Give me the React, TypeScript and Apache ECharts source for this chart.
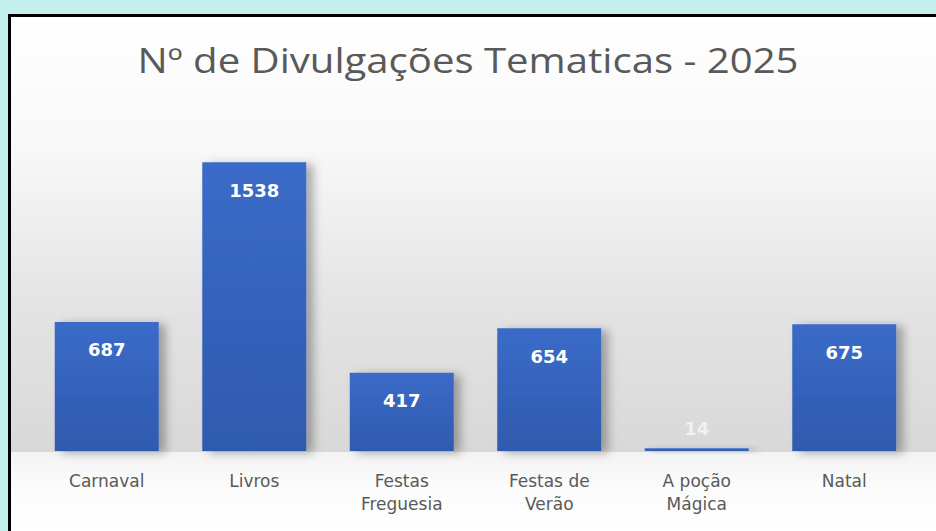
import React, { useEffect, useRef } from "react";
import * as echarts from "echarts";

const titleText = "Nº de Divulgações Tematicas - 2025";
const categories = ["Carnaval", "Livros", "Festas\nFreguesia", "Festas de\nVerão", "A poção\nMágica", "Natal"];
const values = [687, 1538, 417, 654, 14, 675];

export default function App() {
  const ref = useRef<HTMLDivElement>(null);
  useEffect(() => {
    if (!ref.current) return;
    const chart = echarts.init(ref.current, null, { renderer: "svg" });
    const barGradient = new echarts.graphic.LinearGradient(0, 0, 0, 1, [
      { offset: 0, color: "#3a6bc8" },
      { offset: 1, color: "#2f5aae" },
    ]);
    chart.setOption({
      animation: false,
      backgroundColor: "#c3f0ec",
      graphic: {
        elements: [
          {
            type: "rect",
            z: -10,
            shape: { x: 9.5, y: 15.5, width: 940, height: 540 },
            style: { fill: "#ffffff", stroke: "#000000", lineWidth: 3 },
          },
          {
            type: "rect",
            z: -9,
            shape: { x: 11, y: 17, width: 925, height: 435 },
            style: {
              fill: new echarts.graphic.LinearGradient(0, 0, 0, 1, [
                { offset: 0, color: "#ffffff" },
                { offset: 0.3, color: "#f8f8f8" },
                { offset: 0.65, color: "#e4e4e4" },
                { offset: 1, color: "#d8d8d8" },
              ]),
            },
          },
          {
            type: "rect",
            z: -9,
            shape: { x: 11, y: 452, width: 925, height: 79 },
            style: {
              fill: new echarts.graphic.LinearGradient(0, 0, 0, 1, [
                { offset: 0, color: "#f3f3f3" },
                { offset: 0.4, color: "#fbfbfb" },
                { offset: 1, color: "#ffffff" },
              ]),
            },
          },
          {
            type: "text",
            z: 5,
            x: 468,
            y: 60,
            scaleX: 1.18,
            style: {
              text: titleText,
              fontFamily: "Open Sans",
              fontSize: 34,
              fill: "#595959",
              textAlign: "center",
              textVerticalAlign: "middle",
              align: "center",
              verticalAlign: "middle",
            },
          },
        ],
      },
      grid: { left: 33, right: 18, top: 113, bottom: 80 },
      xAxis: {
        type: "category",
        data: categories,
        axisLine: { show: false },
        axisTick: { show: false },
        axisLabel: {
          interval: 0,
          margin: 18,
          color: "#595959",
          fontFamily: "DejaVu Sans",
          fontSize: 17,
          lineHeight: 23,
        },
      },
      yAxis: {
        type: "value",
        min: 0,
        max: 1800,
        show: false,
        splitLine: { show: false },
      },
      series: [
        {
          type: "bar",
          data: values.map((v, i) =>
            v < 100
              ? {
                  value: v,
                  label: { position: "top", distance: 11, color: "#eef1f7" },
                }
              : v
          ),
          barCategoryGap: "29.5%",
          itemStyle: {
            color: barGradient,
            shadowColor: "rgba(0,0,0,0.3)",
            shadowBlur: 10,
            shadowOffsetX: 7,
            shadowOffsetY: 2,
          },
          label: {
            show: true,
            position: "insideTop",
            distance: 19,
            color: "#ffffff",
            fontFamily: "DejaVu Sans",
            fontWeight: "bold",
            fontSize: 18,
          },
        },
      ],
    });
    return () => chart.dispose();
  }, []);
  return <div ref={ref} style={{ position: "fixed", left: 0, top: 0, width: 936, height: 531 }} />;
}
